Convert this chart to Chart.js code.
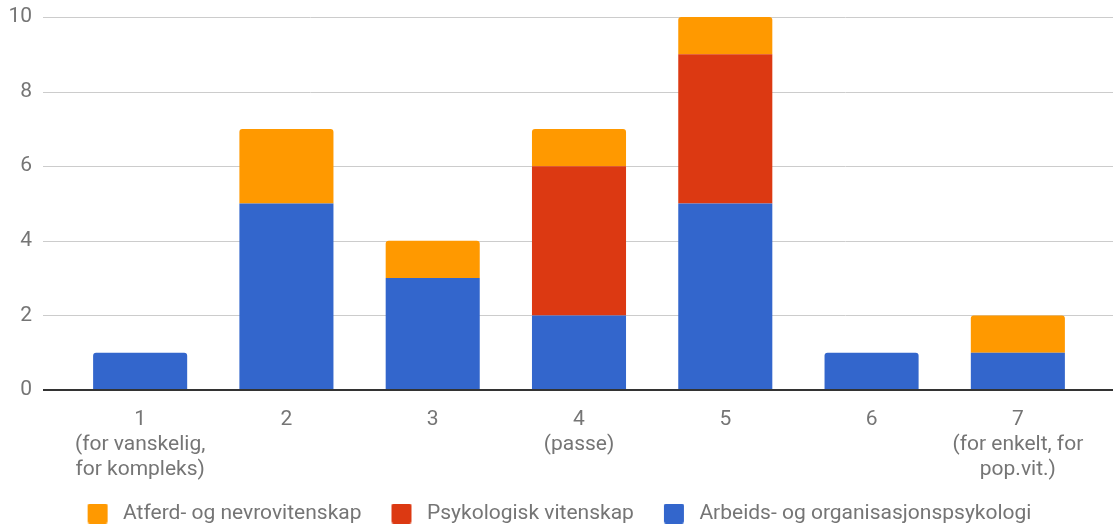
<!DOCTYPE html>
<html>
<head>
<meta charset="utf-8">
<script src="https://cdn.jsdelivr.net/npm/chart.js@4"></script>
<style>
    html, body { margin: 0; padding: 0; background: #fff; }
    #contenedor { width: 1113px; height: 531px; }
</style>
</head>
<body>
<div id="contenedor"><canvas id="grafico"></canvas></div>
<script>
// ------------------------------ Datos ------------------------------
const categorias = [
    ["1", "(for vanskelig,", "for kompleks)"],
    "2",
    "3",
    ["4", "(passe)"],
    "5",
    "6",
    ["7", "(for enkelt, for", "pop.vit.)"]
];
const arbeids = [1, 5, 3, 2, 5, 1, 1];
const psykologisk = [0, 0, 0, 4, 4, 0, 0];
const atferd = [0, 2, 1, 1, 1, 0, 1];
const ticksY = [0, 2, 4, 6, 8, 10];

const textoColor = "#757575";
const fuente = { family: "Roboto", size: 21 };

// Solo el segmento superior de cada barra lleva esquinas redondeadas
function radioSuperior(ctx) {
    const datasets = ctx.chart.data.datasets;
    for (let d = ctx.datasetIndex + 1; d < datasets.length; d++) {
        if (datasets[d].data[ctx.dataIndex] > 0) return 0;
    }
    return { topLeft: 3, topRight: 3, bottomLeft: 0, bottomRight: 0 };
}

// Cuadrado de la leyenda con margen transparente (izquierda 20, derecha 5)
function cuadroLeyenda(color) {
    const c = document.createElement("canvas");
    c.width = 45;
    c.height = 20;
    const g = c.getContext("2d");
    g.fillStyle = color;
    g.beginPath();
    g.roundRect(20, 0, 20, 20, 2);
    g.fill();
    return c;
}

// ------------------------------ Líneas de cuadrícula ------------------------------
const lineasCuadricula = {
    id: "lineasCuadricula",
    beforeDatasetsDraw(chart) {
        const { ctx, chartArea, scales } = chart;
        ctx.save();
        ctx.strokeStyle = "#cccccc";
        ctx.lineWidth = 1;
        ticksY.forEach(v => {
            if (v === 0) return;
            const y = Math.round(scales.y.getPixelForValue(v)) + 0.5;
            ctx.beginPath();
            ctx.moveTo(chartArea.left - 24, y);
            ctx.lineTo(chartArea.right + 22, y);
            ctx.stroke();
        });
        ctx.restore();
    },
    afterDatasetsDraw(chart) {
        const { ctx, chartArea, scales } = chart;
        const y = Math.round(scales.y.getPixelForValue(0));
        ctx.save();
        ctx.strokeStyle = "#333333";
        ctx.lineWidth = 2;
        ctx.beginPath();
        ctx.moveTo(chartArea.left - 24, y);
        ctx.lineTo(chartArea.right + 22, y);
        ctx.stroke();
        ctx.restore();
    }
};

// ------------------------------ Gráfico ------------------------------
const ctx = document.getElementById("grafico").getContext("2d");

new Chart(ctx, {
    type: "bar",
    data: {
        labels: categorias,
        datasets: [
            { label: "Arbeids- og organisasjonspsykologi", data: arbeids, backgroundColor: "#3366cc" },
            { label: "Psykologisk vitenskap", data: psykologisk, backgroundColor: "#dc3912" },
            { label: "Atferd- og nevrovitenskap", data: atferd, backgroundColor: "#ff9900" }
        ]
    },
    options: {
        responsive: true,
        maintainAspectRatio: false,
        animation: false,
        layout: { padding: { left: 0, right: 14, top: 17, bottom: -3 } },
        datasets: {
            bar: {
                categoryPercentage: 1,
                barPercentage: 0.643,
                borderRadius: radioSuperior,
                borderSkipped: false
            }
        },
        scales: {
            x: {
                stacked: true,
                grid: { display: false, drawTicks: false },
                border: { display: false },
                afterFit: (escala) => {
                    escala.paddingLeft = 0;
                    escala.paddingRight = 22;
                    escala.height = 103;
                },
                ticks: {
                    color: textoColor,
                    font: fuente,
                    padding: 17,
                    maxRotation: 0,
                    autoSkip: false
                }
            },
            y: {
                stacked: true,
                min: 0,
                max: 10,
                grid: { display: false, drawTicks: false },
                border: { display: false },
                afterBuildTicks: (escala) => {
                    escala.ticks = ticksY.map(v => ({ value: v }));
                },
                afterFit: (escala) => {
                    escala.width = 67;
                    escala.paddingTop = 0;
                    escala.paddingBottom = 0;
                },
                ticks: {
                    color: textoColor,
                    font: fuente,
                    padding: 35
                }
            }
        },
        plugins: {
            legend: {
                position: "bottom",
                reverse: true,
                labels: {
                    color: textoColor,
                    font: fuente,
                    usePointStyle: true,
                    pointStyleWidth: 45,
                    boxHeight: 20,
                    padding: 10,
                    generateLabels: (chart) => {
                        const items = Chart.defaults.plugins.legend.labels.generateLabels(chart);
                        items.forEach(item => {
                            item.pointStyle = cuadroLeyenda(item.fillStyle);
                        });
                        return items;
                    }
                }
            },
            tooltip: { enabled: false }
        }
    },
    plugins: [lineasCuadricula]
});
</script>
</body>
</html>
